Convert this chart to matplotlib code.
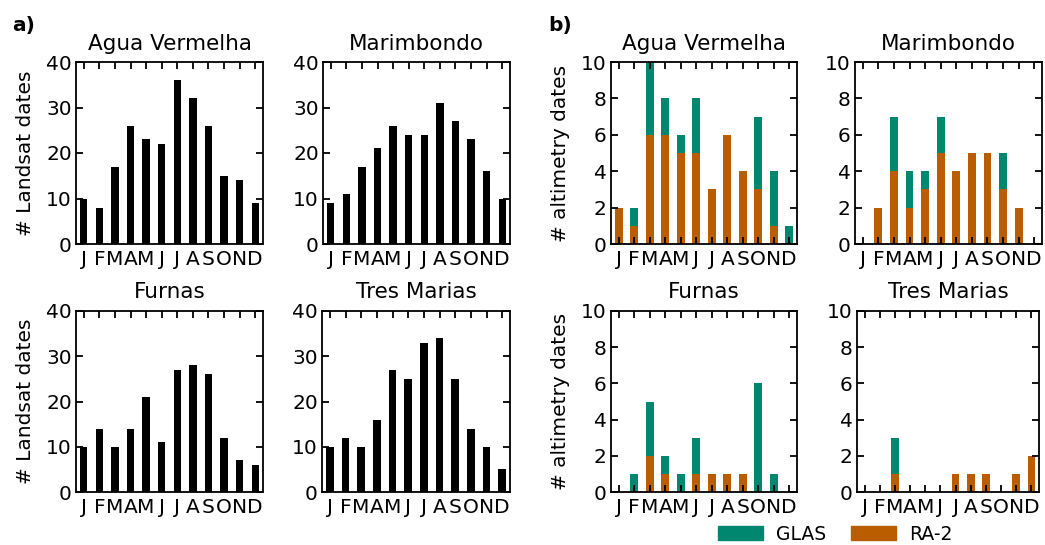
import matplotlib
matplotlib.use("Agg")
import matplotlib.pyplot as plt
from matplotlib.patches import Patch
import numpy as np

plt.rcParams['font.family'] = ['DejaVu Sans']

months = ["J", "F", "M", "A", "M", "J", "J", "A", "S", "O", "N", "D"]
reservoirs = ["Agua Vermelha", "Marimbondo", "Furnas", "Tres Marias"]

# Landsat acquisitions per month
landsat_agua = [10, 8, 17, 26, 23, 22, 36, 32, 26, 15, 14, 9]
landsat_marimbondo = [9, 11, 17, 21, 26, 24, 24, 31, 27, 23, 16, 10]
landsat_furnas = [10, 14, 10, 14, 21, 11, 27, 28, 26, 12, 7, 6]
landsat_tres = [10, 12, 10, 16, 27, 25, 33, 34, 25, 14, 10, 5]

# Altimetry acquisitions per month (RA-2 at the bottom, GLAS stacked on top)
ra2_agua = [2, 1, 6, 6, 5, 5, 3, 6, 4, 3, 1, 0]
glas_agua = [0, 1, 4, 2, 1, 3, 0, 0, 0, 4, 3, 1]
ra2_marimbondo = [0, 2, 4, 2, 3, 5, 4, 5, 5, 3, 2, 0]
glas_marimbondo = [0, 0, 3, 2, 1, 2, 0, 0, 0, 2, 0, 0]
ra2_furnas = [0, 0, 2, 1, 0, 1, 1, 1, 1, 0, 0, 0]
glas_furnas = [0, 1, 3, 1, 1, 2, 0, 0, 0, 6, 1, 0]
ra2_tres = [0, 0, 1, 0, 0, 0, 1, 1, 1, 0, 1, 2]
glas_tres = [0, 0, 2, 0, 0, 0, 0, 0, 0, 0, 0, 0]

landsat = [landsat_agua, landsat_marimbondo, landsat_furnas, landsat_tres]
ra2 = [ra2_agua, ra2_marimbondo, ra2_furnas, ra2_tres]
glas = [glas_agua, glas_marimbondo, glas_furnas, glas_tres]

GLAS_COLOR = "#00876f"
RA2_COLOR = "#ba5c00"

W, H = 1045, 545
fig = plt.figure(figsize=(W / 100, H / 100), dpi=100)


def px_axes(x0, x1, y0, y1):
    return fig.add_axes([x0 / W, 1 - y1 / H, (x1 - x0) / W, (y1 - y0) / H])


def style(ax, ymax, step):
    x = np.arange(1, 13)
    ax.set_xlim(0.5, 12.5)
    ax.set_ylim(0, ymax)
    ax.set_xticks(x)
    ax.set_xticklabels(months)
    ax.set_yticks(np.arange(0, ymax + 0.1, step))
    ax.tick_params(direction="in", top=True, right=True, length=5,
                   width=1.3, labelsize=14.5, pad=3)
    ax.tick_params(axis="x", pad=4)
    for s in ax.spines.values():
        s.set_linewidth(1.3)


# pixel boxes: (left, right, top, bottom)
boxes_a = [(76, 263, 62, 244), (323, 510, 62, 244),
           (76, 263, 311, 492), (322, 510, 311, 492)]
boxes_b = [(611, 797, 62, 244), (855, 1042, 62, 244),
           (611, 797, 311, 492), (857, 1039, 311, 492)]

x = np.arange(1, 13)
for i, name in enumerate(reservoirs):
    ax = px_axes(*boxes_a[i])
    ax.bar(x, landsat[i], width=0.47, color="black", zorder=1)
    style(ax, 40, 10)
    ax.set_title(name, fontsize=15.5, pad=9)
    if i % 2 == 0:
        ax.set_ylabel("# Landsat dates", fontsize=14.5, labelpad=8)

for i, name in enumerate(reservoirs):
    ax = px_axes(*boxes_b[i])
    ax.bar(x, ra2[i], width=0.5, color=RA2_COLOR, zorder=1)
    ax.bar(x, glas[i], width=0.5, bottom=ra2[i], color=GLAS_COLOR, zorder=1)
    style(ax, 10, 2)
    ax.set_title(name, fontsize=15.5, pad=9)
    if i % 2 == 0:
        ax.set_ylabel("# altimetry dates", fontsize=14.5, labelpad=8)

fig.text(12 / W, 1 - 31 / H, "a)", fontsize=14.5, fontweight="bold")
fig.text(548 / W, 1 - 31 / H, "b)", fontsize=14.5, fontweight="bold")

handles = [Patch(color=GLAS_COLOR, label="GLAS"),
           Patch(color=RA2_COLOR, label="RA-2")]
fig.legend(handles=handles, loc="center", bbox_to_anchor=(835 / W, 1 - 534 / H),
           ncol=2, frameon=False, fontsize=13.5, handlelength=2.4,
           handleheight=0.8, columnspacing=1.3, handletextpad=0.7)

fig.savefig("out.png", dpi=100)
